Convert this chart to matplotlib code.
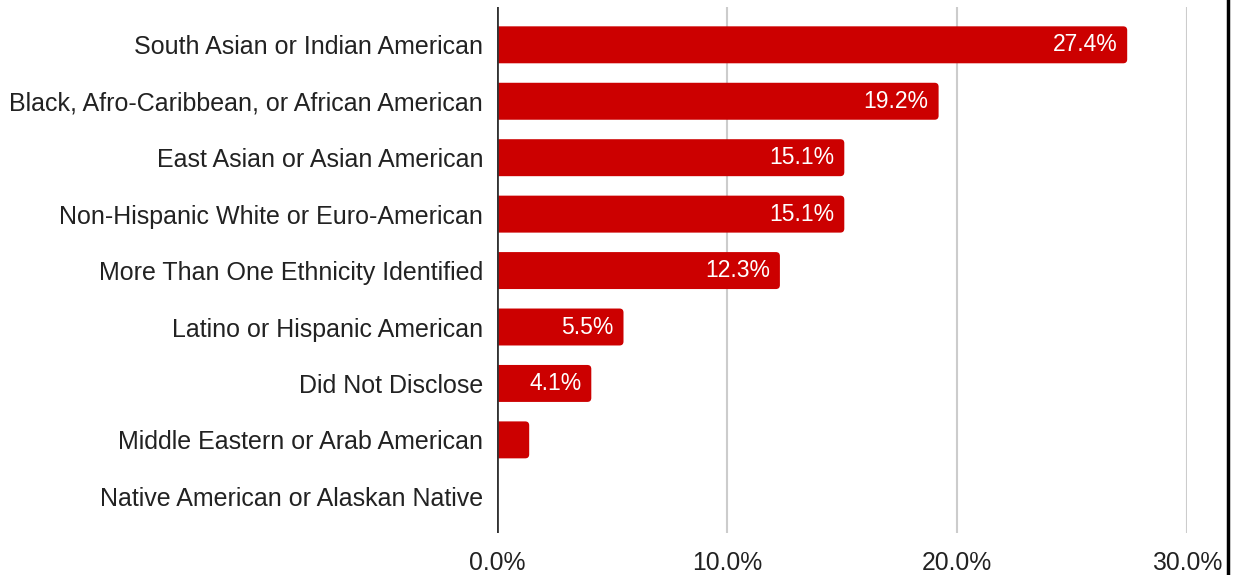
import matplotlib
matplotlib.use("Agg")
import matplotlib.pyplot as plt
from matplotlib.patches import FancyBboxPatch
from matplotlib.lines import Line2D

categories = [
    "South Asian or Indian American",
    "Black, Afro-Caribbean, or African American",
    "East Asian or Asian American",
    "Non-Hispanic White or Euro-American",
    "More Than One Ethnicity Identified",
    "Latino or Hispanic American",
    "Did Not Disclose",
    "Middle Eastern or Arab American",
    "Native American or Alaskan Native",
]
values = [27.4, 19.2, 15.1, 15.1, 12.3, 5.5, 4.1, 1.4, 0.0]
labels = ["27.4%", "19.2%", "15.1%", "15.1%", "12.3%", "5.5%", "4.1%", "", ""]
xticks = [0, 10, 20, 30]
xticklabels = ["0.0%", "10.0%", "20.0%", "30.0%"]

plt.rcParams['font.family'] = ['Liberation Sans', 'DejaVu Sans']
W, H = 1234, 575
fig = plt.figure(figsize=(W / 100, H / 100), dpi=100)
ax_l, ax_r, ax_t, ax_b = 497, 1187, 7, 533
ax = fig.add_axes([ax_l / W, 1 - ax_b / H, (ax_r - ax_l) / W, (ax_b - ax_t) / H])

ylim = (8.65, -0.67)
ax.set_xlim(0, 30)
ax.set_ylim(*ylim)

red = "#cc0000"
bar_h = 0.655
xpp = 30 / (ax_r - ax_l)
ypp = (ylim[0] - ylim[1]) / (ax_b - ax_t)
r = 4 * xpp
for i, v in enumerate(values):
    if v <= 0:
        continue
    p = FancyBboxPatch((-0.5, i - bar_h / 2), v + 0.5, bar_h,
                       boxstyle=f"round,pad=0,rounding_size={r}",
                       mutation_aspect=ypp / xpp,
                       facecolor=red, edgecolor="none", zorder=3)
    ax.add_patch(p)
    if labels[i]:
        ax.text(v - 10 * xpp, i, labels[i], ha="right", va="center",
                color="white", fontsize=16.5, zorder=4)

for x in xticks[1:]:
    ax.axvline(x, color="#cccccc", lw=1.5, zorder=1)
ax.axvline(0, color="#333333", lw=2, zorder=5)

ax.set_yticks(range(len(categories)))
ax.set_yticklabels(categories, fontsize=18, color="#222222")
ax.set_xticks(xticks)
ax.set_xticklabels(xticklabels, fontsize=17.8, color="#222222")
ax.tick_params(axis="both", length=0)
ax.tick_params(axis="y", pad=10)
ax.tick_params(axis="x", pad=13)
for s in ax.spines.values():
    s.set_visible(False)

fig.add_artist(Line2D([1227.5 / W, 1227.5 / W], [0, 1], color="black", lw=2.5,
                      transform=fig.transFigure))

fig.savefig("out.png", dpi=100, facecolor="white")
